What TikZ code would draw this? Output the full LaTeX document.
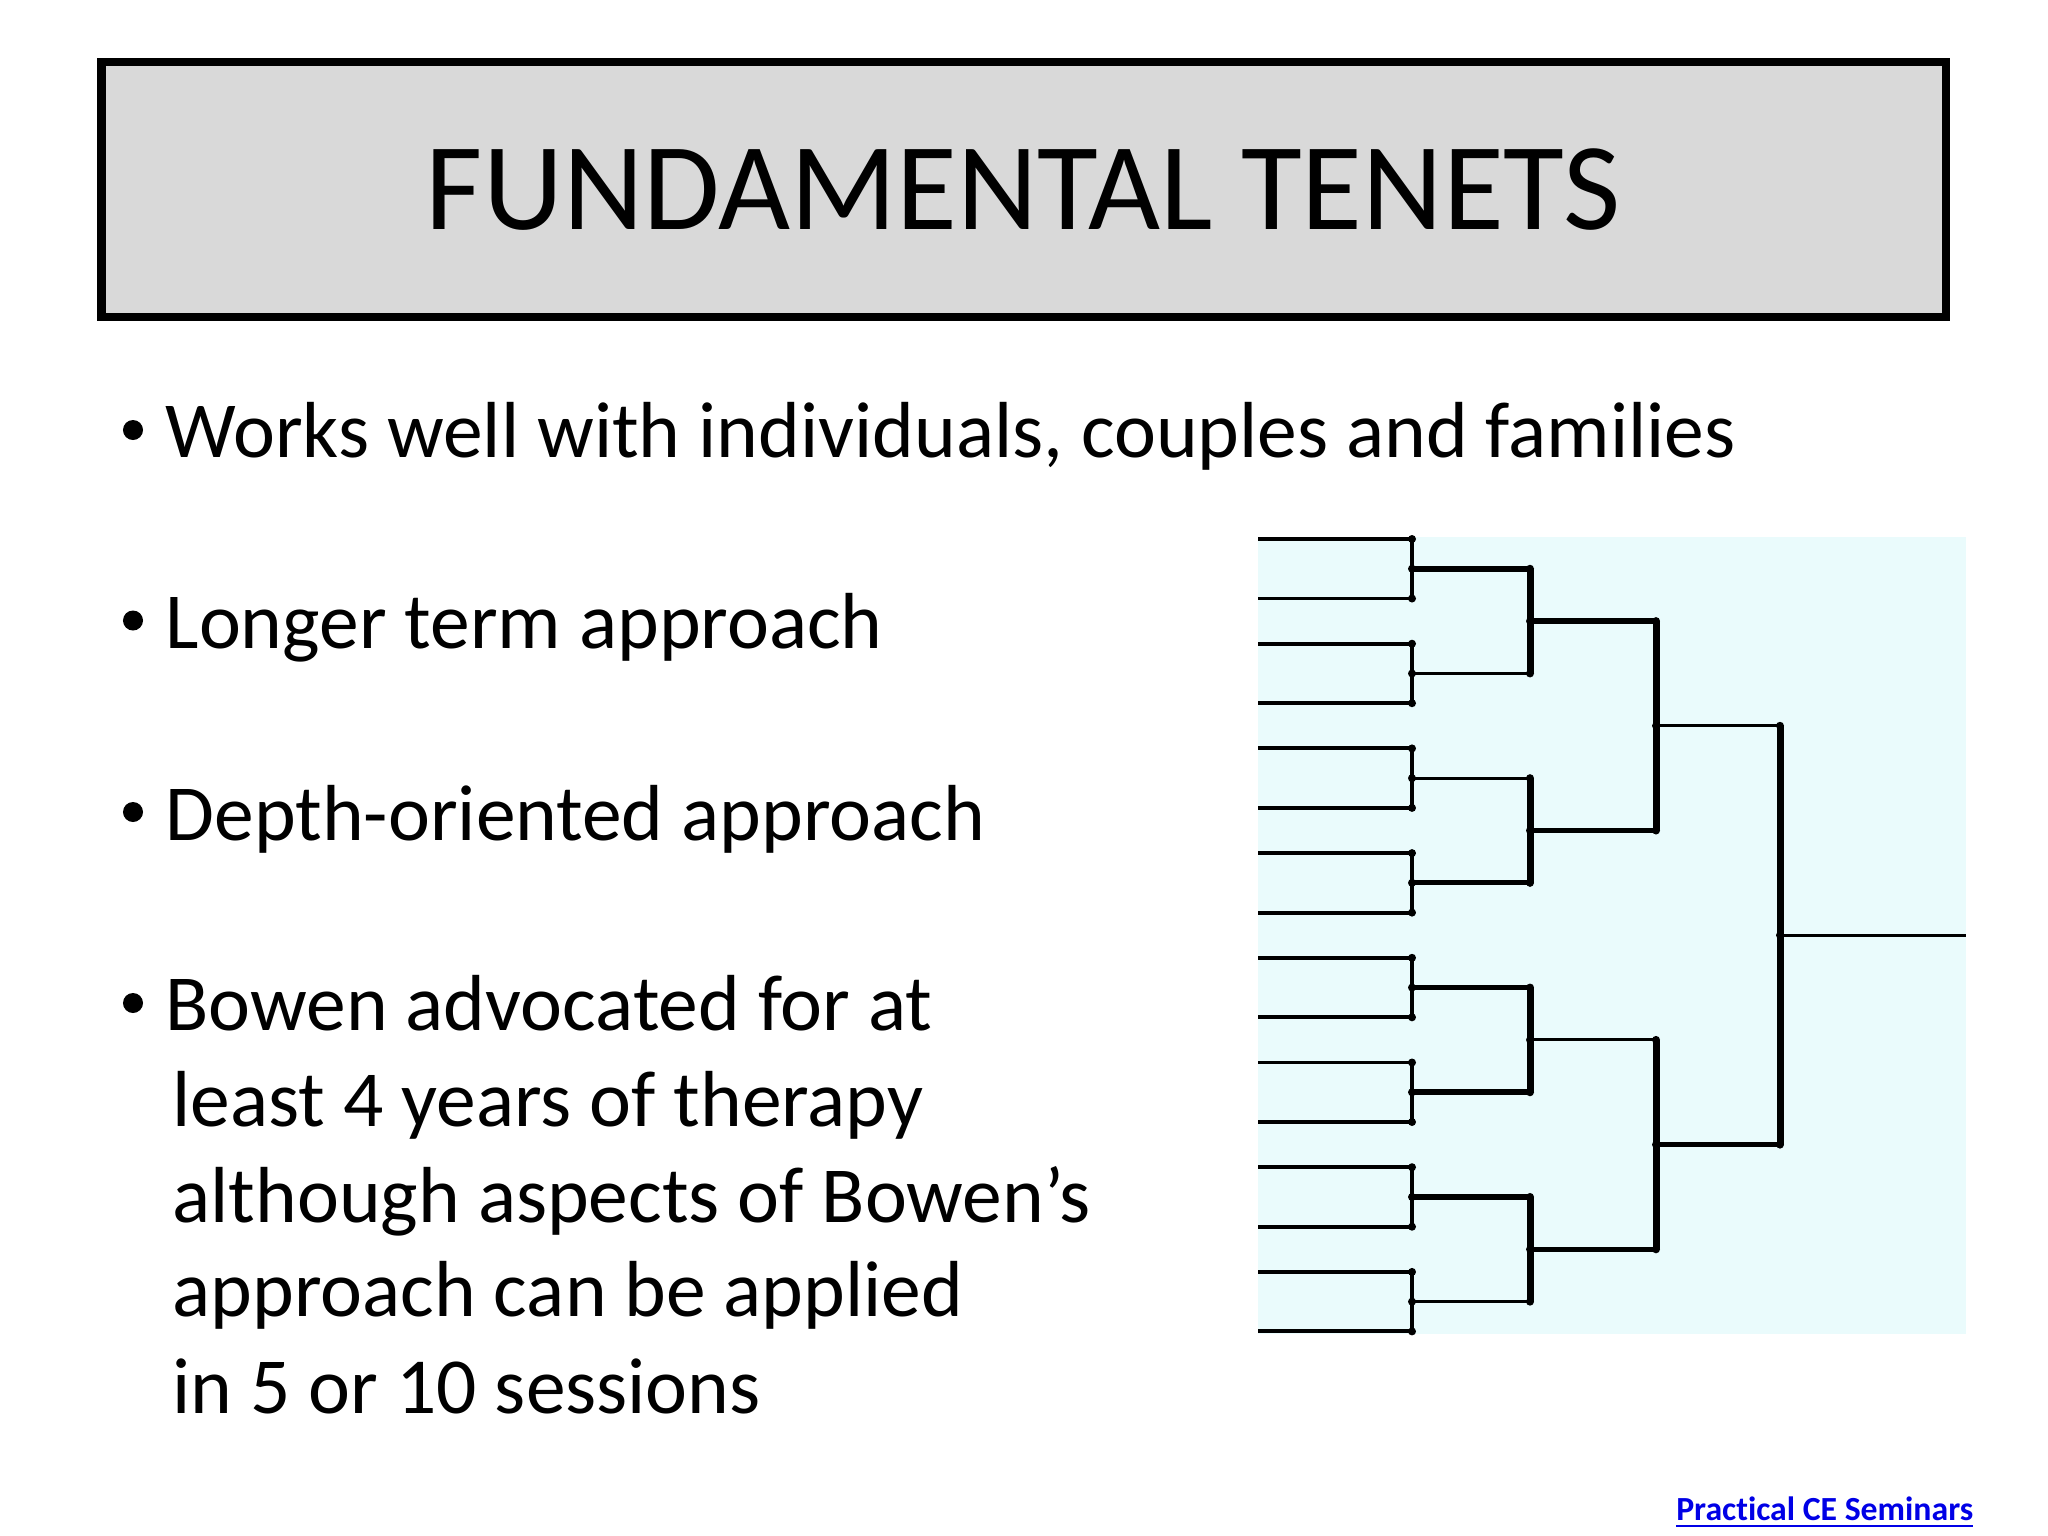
\documentclass[tikz,border=0pt]{standalone}
\usepackage{fontspec}
\setmainfont{Carlito}[Ligatures=NoCommon]
\usetikzlibrary{calc}
\definecolor{titlegray}{RGB}{217,217,217}
\definecolor{bracketbg}{RGB}{234,251,252}
\definecolor{linkblue}{RGB}{0,0,230}
\tikzset{%
  titlebox/.style={draw=black, line width=2.3pt, fill=titlegray, minimum width=18.43cm,
    minimum height=2.55cm, inner sep=0pt, font=\fontsize{35.4}{40}\selectfont},
  item/.style={anchor=base west, inner sep=0pt, font=\fontsize{22.6}{28}\selectfont},
  bul/.style={circle, fill=black, inner sep=0pt, minimum size=0.2cm},
  leaf/.style={line width=1.1pt},
  joinline/.style={line width=1.4pt},
  bigjoin/.style={line width=2pt},
  jdot/.style={circle, fill=black, inner sep=0pt, minimum size=0.08cm}
}

\begin{document}
\begin{tikzpicture}[x=0.01cm, y=-0.01cm]
  \useasboundingbox (0,0) rectangle (2048,1536);
  \fill[white] (0,0) rectangle (2048,1536);

  % title
  \node[titlebox] (title) at (1023.5,189.5) {FUNDAMENTAL TENETS};

  % bullets
  \node[bul] (b1) at (133,430) {};
  \node[item] (t1) at (165,457.7) {Works well with individuals, couples and families};
  \node[bul] (b2) at (133,620.5) {};
  \node[item] (t2) at (165,648.3) {Longer term approach};
  \node[bul] (b3) at (133,812) {};
  \node[item] (t3) at (165,840) {Depth-oriented approach};
  \node[bul] (b4) at (133,1003) {};
  \node[item] (t4) at (165,1030.7) {Bowen advocated for at};
  \node[item] (t5) at (172,1126.7) {least 4 years of therapy};
  \node[item] (t6) at (172,1222) {although aspects of Bowen’s};
  \node[item] (t7) at (172,1316.7) {approach can be applied};
  \node[item] (t8) at (172,1413.3) {in 5 or 10 sessions};

  % bracket
  \fill[bracketbg] (1258,537) rectangle (1966,1334);
  \foreach \i/\w in {0/1.6,1/0.9,2/0.9,3/1.4,4/1.6,5/1.6,6/1.6,7/0.9} {
    \coordinate (a\i) at (1258,{539+104.7*\i});
    \coordinate (b\i) at (1258,{598.5+104.7*\i});
    \coordinate (ja\i) at (1412,{539+104.7*\i});
    \coordinate (jb\i) at (1412,{598.5+104.7*\i});
    \coordinate (p\i) at ($(ja\i)!0.5!(jb\i)$);
    \coordinate (q\i) at ($(p\i)+(118,0)$);
    \draw[leaf] (a\i) -- (ja\i);
    \draw[leaf] (b\i) -- (jb\i);
    \draw[joinline] (ja\i) -- (jb\i);
    \draw[line width=\w pt] (p\i) -- (q\i);
    \node[jdot] at (ja\i) {};
    \node[jdot] at (jb\i) {};
    \node[jdot] at (p\i) {};
  }
  \foreach \k/\w in {0/1.6,1/1.6,2/0.9,3/1.6} {
    \pgfmathtruncatemacro\u{2*\k}
    \pgfmathtruncatemacro\v{2*\k+1}
    \draw[bigjoin] (q\u) -- (q\v);
    \coordinate (r\k) at ($(q\u)!0.5!(q\v)$);
    \coordinate (s\k) at ($(r\k)+(126,0)$);
    \draw[line width=\w pt] (r\k) -- (s\k);
    \node[jdot] at (q\u) {};
    \node[jdot] at (q\v) {};
    \node[jdot] at (r\k) {};
  }
  \foreach \k/\w in {0/0.9,1/1.6} {
    \pgfmathtruncatemacro\u{2*\k}
    \pgfmathtruncatemacro\v{2*\k+1}
    \draw[bigjoin] (s\u) -- (s\v);
    \coordinate (t\k) at ($(s\u)!0.5!(s\v)$);
    \coordinate (w\k) at ($(t\k)+(124,0)$);
    \draw[line width=\w pt] (t\k) -- (w\k);
    \node[jdot] at (s\u) {};
    \node[jdot] at (s\v) {};
    \node[jdot] at (t\k) {};
  }
  \draw[bigjoin] (w0) -- (w1);
  \coordinate (fin) at ($(w0)!0.5!(w1)$);
  \coordinate (champ) at (1966,0 |- fin);
  \draw[line width=0.9pt] (fin) -- (champ);
  \node[jdot] at (w0) {};
  \node[jdot] at (w1) {};
  \node[jdot] at (fin) {};

  % footer link
  \node[anchor=base east, inner sep=0pt, text=linkblue,
    font=\bfseries\fontsize{9.6}{11}\selectfont] (seminars) at (1974,1520.7)
    {\underline{Practical CE Seminars}};
\end{tikzpicture}
\end{document}
